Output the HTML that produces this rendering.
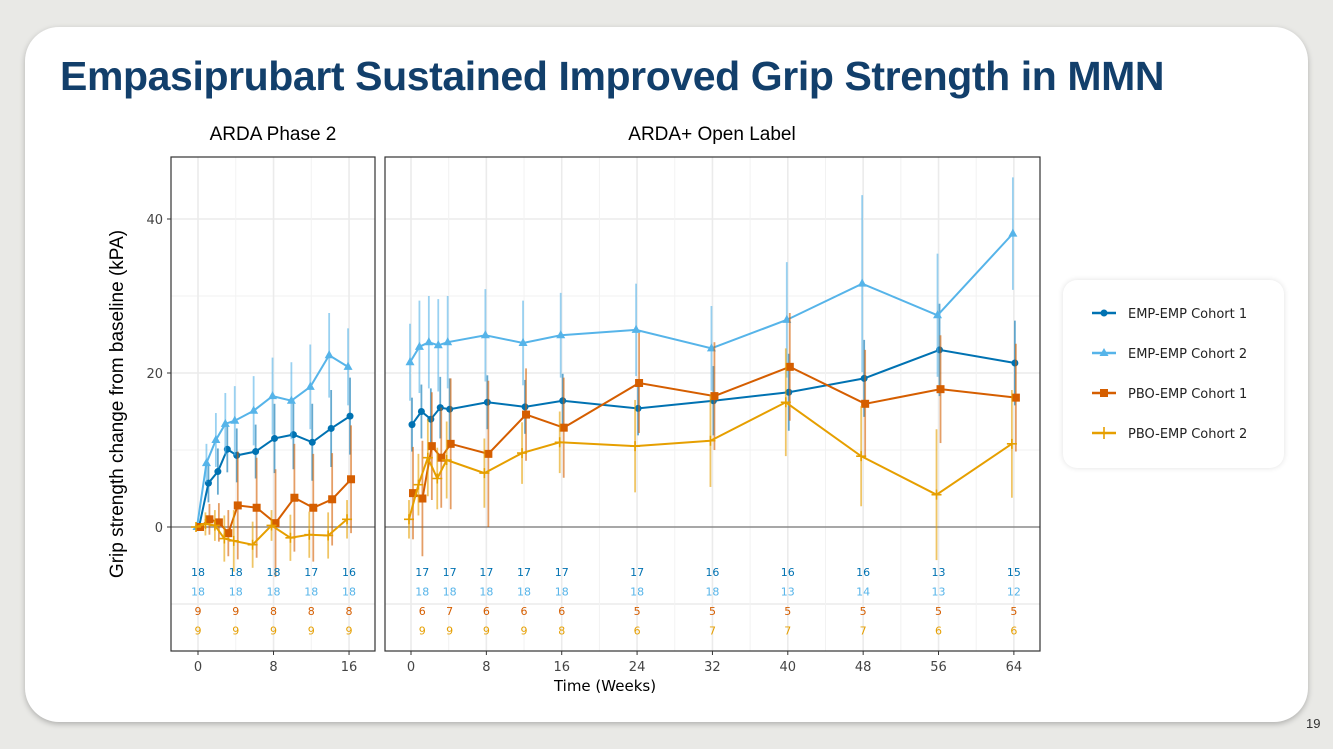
<!DOCTYPE html>
<html><head><meta charset="utf-8"><style>
body{margin:0;width:1333px;height:749px;background:#e9e9e6;overflow:hidden;font-family:"Liberation Sans",sans-serif;position:relative}
#card{position:absolute;left:25px;top:27px;width:1283px;height:695px;background:#fff;border-radius:34px;box-shadow:0 2px 6px rgba(0,0,0,.25)}
#title{position:absolute;left:60px;top:53px;font-size:41px;font-weight:bold;color:#123f6b;letter-spacing:-0.4px;white-space:nowrap}
#legend{position:absolute;left:1063px;top:280px;width:221px;height:188px;background:#fff;border-radius:14px;box-shadow:0 0 6px rgba(0,0,0,.12)}
#pg{position:absolute;left:1306px;top:716px;font-size:13px;color:#333}
svg{position:absolute;left:0;top:0}
</style></head><body>
<div id="card"></div>
<div id="title">Empasiprubart Sustained Improved Grip Strength in MMN</div>
<div id="legend"></div>
<div id="pg">19</div>
<svg id="chart" width="1333" height="749"></svg>
<script>
const colors=["#0072b2","#56b4e9","#d55e00","#e69f00"];
const seriesNames=["EMP-EMP Cohort 1","EMP-EMP Cohort 2","PBO-EMP Cohort 1","PBO-EMP Cohort 2"];
const leftWeeks=[0,1,2,3,4,6,8,10,12,14,16];
const leftEmp1=[0,5.7,7.2,10.1,9.3,9.8,11.5,12,11,12.8,14.4];
const leftEmp2=[0,8.3,11.3,13.4,13.8,15.1,17,16.4,18.2,22.3,20.8];
const leftPbo1=[0,1,0.6,-0.8,2.8,2.5,0.5,3.8,2.5,3.6,6.2];
const leftPbo2=[0,0.4,0.2,-1.5,-1.8,-2.3,0.2,-1.4,-1,-1.1,1];
const leftErr=[[0,2.5,3,3,3.5,3.5,4.5,4.5,5,5,5],[0,2.5,3.5,4,4.5,4.5,5,5,5.5,5.5,5],[0,2,2.5,3,7,6.5,7,7,7,6,7],[0,1.5,2,3,4,3,2,3,3,3,2.5]];
const rightWeeks=[0,1,2,3,4,8,12,16,24,32,40,48,56,64];
const rightEmp1=[13.3,15,14,15.5,15.3,16.2,15.6,16.4,15.4,16.4,17.5,19.3,23,21.3];
const rightEmp2=[21.4,23.4,24,23.6,24,24.9,23.9,24.9,25.6,23.2,26.9,31.6,27.5,38.1];
const rightPbo1=[4.4,3.7,10.5,9,10.8,9.5,14.6,12.9,18.7,17,20.8,16,17.9,16.8];
const rightPbo2=[1,5.5,9,6.3,8.7,7,9.6,11,10.5,11.2,16.2,9.2,4.2,10.8];
const rightErr=[[3.5,3.5,4,4,4,3.5,3.5,3.5,3.5,4.5,5,5,6,5.5],[5,6,6,6,6,6,5.5,5.5,6,5.5,7.5,11.5,8,7.3],[6,7.5,7,6.5,8.5,9.5,6,6.5,6.5,7,7,7,7,7],[2.5,4,5,4,5,4.5,4,4,6,6,7,6.5,8.5,7]];
const leftNWeeks=[0,4,8,12,16];
const leftN=[["18","18","18","17","16"],["18","18","18","18","18"],["9","9","8","8","8"],["9","9","9","9","9"]];
const rightNWeeks=[1.2,4.1,8,12,16,24,32,40,48,56,64];
const rightN=[["17","17","17","17","17","17","16","16","16","13","15"],["18","18","18","18","18","18","18","13","14","13","12"],["6","7","6","6","6","5","5","5","5","5","5"],["9","9","9","9","8","6","7","7","7","6","6"]];
const yTicks=[0,20,40];
const leftXTicks=[0,8,16];
const rightXTicks=[0,8,16,24,32,40,48,56,64];

const NS="http://www.w3.org/2000/svg";
const svg=document.getElementById('chart');
function mk(tag,attrs,parent){const e=document.createElementNS(NS,tag);for(const k in attrs)e.setAttribute(k,attrs[k]);(parent||svg).appendChild(e);return e;}
const y=v=>527-v*7.7;
const PT=157,PB=651;
const panels=[
 {x0:171,x1:375,sx:w=>198+w*9.44,weeks:leftWeeks,data:[leftEmp1,leftEmp2,leftPbo1,leftPbo2],err:leftErr,nW:leftNWeeks,n:leftN,xt:leftXTicks,minor:[4,12],title:"ARDA Phase 2",tx:273,name:"arda-phase2"},
 {x0:385,x1:1040,sx:w=>411+w*9.42,weeks:rightWeeks,data:[rightEmp1,rightEmp2,rightPbo1,rightPbo2],err:rightErr,nW:rightNWeeks,n:rightN,xt:rightXTicks,minor:[4,12,20,28,36,44,52,60],title:"ARDA+ Open Label",tx:712,name:"arda-open-label"}
];
const shift=[1,-1,2,-2];
panels.forEach(p=>{
 const g=mk('g',{});
 
 
 [-10,10,30].forEach(v=>mk('line',{x1:p.x0,x2:p.x1,y1:y(v),y2:y(v),stroke:'#f2f2f2','stroke-width':1},g));
 yTicks.forEach(v=>{if(v!==0)mk('line',{x1:p.x0,x2:p.x1,y1:y(v),y2:y(v),stroke:'#ebebeb','stroke-width':1.6},g);});
 mk('line',{x1:p.x0,x2:p.x1,y1:y(-10),y2:y(-10),stroke:'#ebebeb','stroke-width':1.6},g);
 p.minor.forEach(w=>mk('line',{x1:p.sx(w),x2:p.sx(w),y1:PT,y2:PB,stroke:'#f2f2f2','stroke-width':1},g));
 p.xt.forEach(w=>{mk('line',{x1:p.sx(w),x2:p.sx(w),y1:PT,y2:PB,stroke:'#ebebeb','stroke-width':1.6},g);
   const t=mk('text',{x:p.sx(w),y:671,'text-anchor':'middle','font-size':13,fill:'#444','font-family':'DejaVu Sans,sans-serif'},g);t.textContent=w;
   
   mk('line',{x1:p.sx(w),x2:p.sx(w),y1:PB,y2:PB+4,stroke:'#333'},g);});
 mk('line',{x1:p.x0,x2:p.x1,y1:y(0),y2:y(0),stroke:'#8a8a8a','stroke-width':1.6},g);
 p.data.forEach((arr,si)=>{
   const c=colors[si];
   const sg=mk('g',{},g);
   
   
   arr.forEach((v,i)=>{const X=p.sx(p.weeks[i])+shift[si];const e=p.err[si][i];
     if(e>0)mk('line',{x1:X,x2:X,y1:y(v-e),y2:y(v+e),stroke:c,'stroke-width':1.8,opacity:0.6},sg);});
   const pts=arr.map((v,i)=>(p.sx(p.weeks[i])+shift[si])+','+y(v)).join(' ');
   mk('polyline',{points:pts,fill:'none',stroke:c,'stroke-width':2},sg);
   arr.forEach((v,i)=>{const X=p.sx(p.weeks[i])+shift[si],Y=y(v);let m;
     if(si===0)m=mk('circle',{cx:X,cy:Y,r:3.5,fill:c},sg);
     else if(si===1)m=mk('polygon',{points:`${X},${Y-5} ${X-4.5},${Y+3} ${X+4.5},${Y+3}`,fill:c},sg);
     else if(si===2)m=mk('rect',{x:X-4,y:Y-4,width:8,height:8,fill:c},sg);
     else{m=mk('path',{d:`M${X-5},${Y}H${X+5}M${X},${Y-5}V${Y+5}`,stroke:c,'stroke-width':1.6},sg);}
     });
 });
 p.n.forEach((row,si)=>row.forEach((s,i)=>{const t=mk('text',{x:p.sx(p.nW[i]),y:576+si*19.5,'text-anchor':'middle','font-size':11,fill:colors[si],'font-family':'DejaVu Sans,sans-serif'},g);t.textContent=s;
   }));
 mk('rect',{x:p.x0,y:PT,width:p.x1-p.x0,height:PB-PT,fill:'none',stroke:'#333','stroke-width':1.2},g);
 const tt=mk('text',{x:p.tx,y:140,'text-anchor':'middle','font-size':19,fill:'#000'},g);tt.textContent=p.title;
 
});
yTicks.forEach(v=>{const t=mk('text',{x:163,y:y(v)+5,'text-anchor':'end','font-size':13,fill:'#444','font-family':'DejaVu Sans,sans-serif'});t.textContent=v;
 
 mk('line',{x1:167,x2:171,y1:y(v),y2:y(v),stroke:'#333'});});
const yt=mk('text',{x:123,y:404,'text-anchor':'middle','font-size':19,fill:'#000',transform:'rotate(-90 123 404)'});yt.textContent='Grip strength change from baseline (kPA)';

const xt=mk('text',{x:605,y:691,'text-anchor':'middle','font-size':15,fill:'#000','font-family':'DejaVu Sans,sans-serif'});xt.textContent='Time (Weeks)';

seriesNames.forEach((nm,si)=>{const Y=313+si*40,c=colors[si];
 const lg=mk('g',{});
 
 
 mk('line',{x1:1092,x2:1116,y1:Y,y2:Y,stroke:c,'stroke-width':2.5},lg);
 const X=1104;
 if(si===0)mk('circle',{cx:X,cy:Y,r:3.5,fill:c},lg);
 else if(si===1)mk('polygon',{points:`${X},${Y-5} ${X-4.5},${Y+3} ${X+4.5},${Y+3}`,fill:c},lg);
 else if(si===2)mk('rect',{x:X-4,y:Y-4,width:8,height:8,fill:c},lg);
 else mk('line',{x1:X,x2:X,y1:Y-6,y2:Y+6,stroke:c,'stroke-width':1.6},lg);
 const t=mk('text',{x:1128,y:Y+5,'font-size':13,fill:'#222','font-family':'DejaVu Sans,sans-serif'},lg);t.textContent=nm;});
</script>
</body></html>
